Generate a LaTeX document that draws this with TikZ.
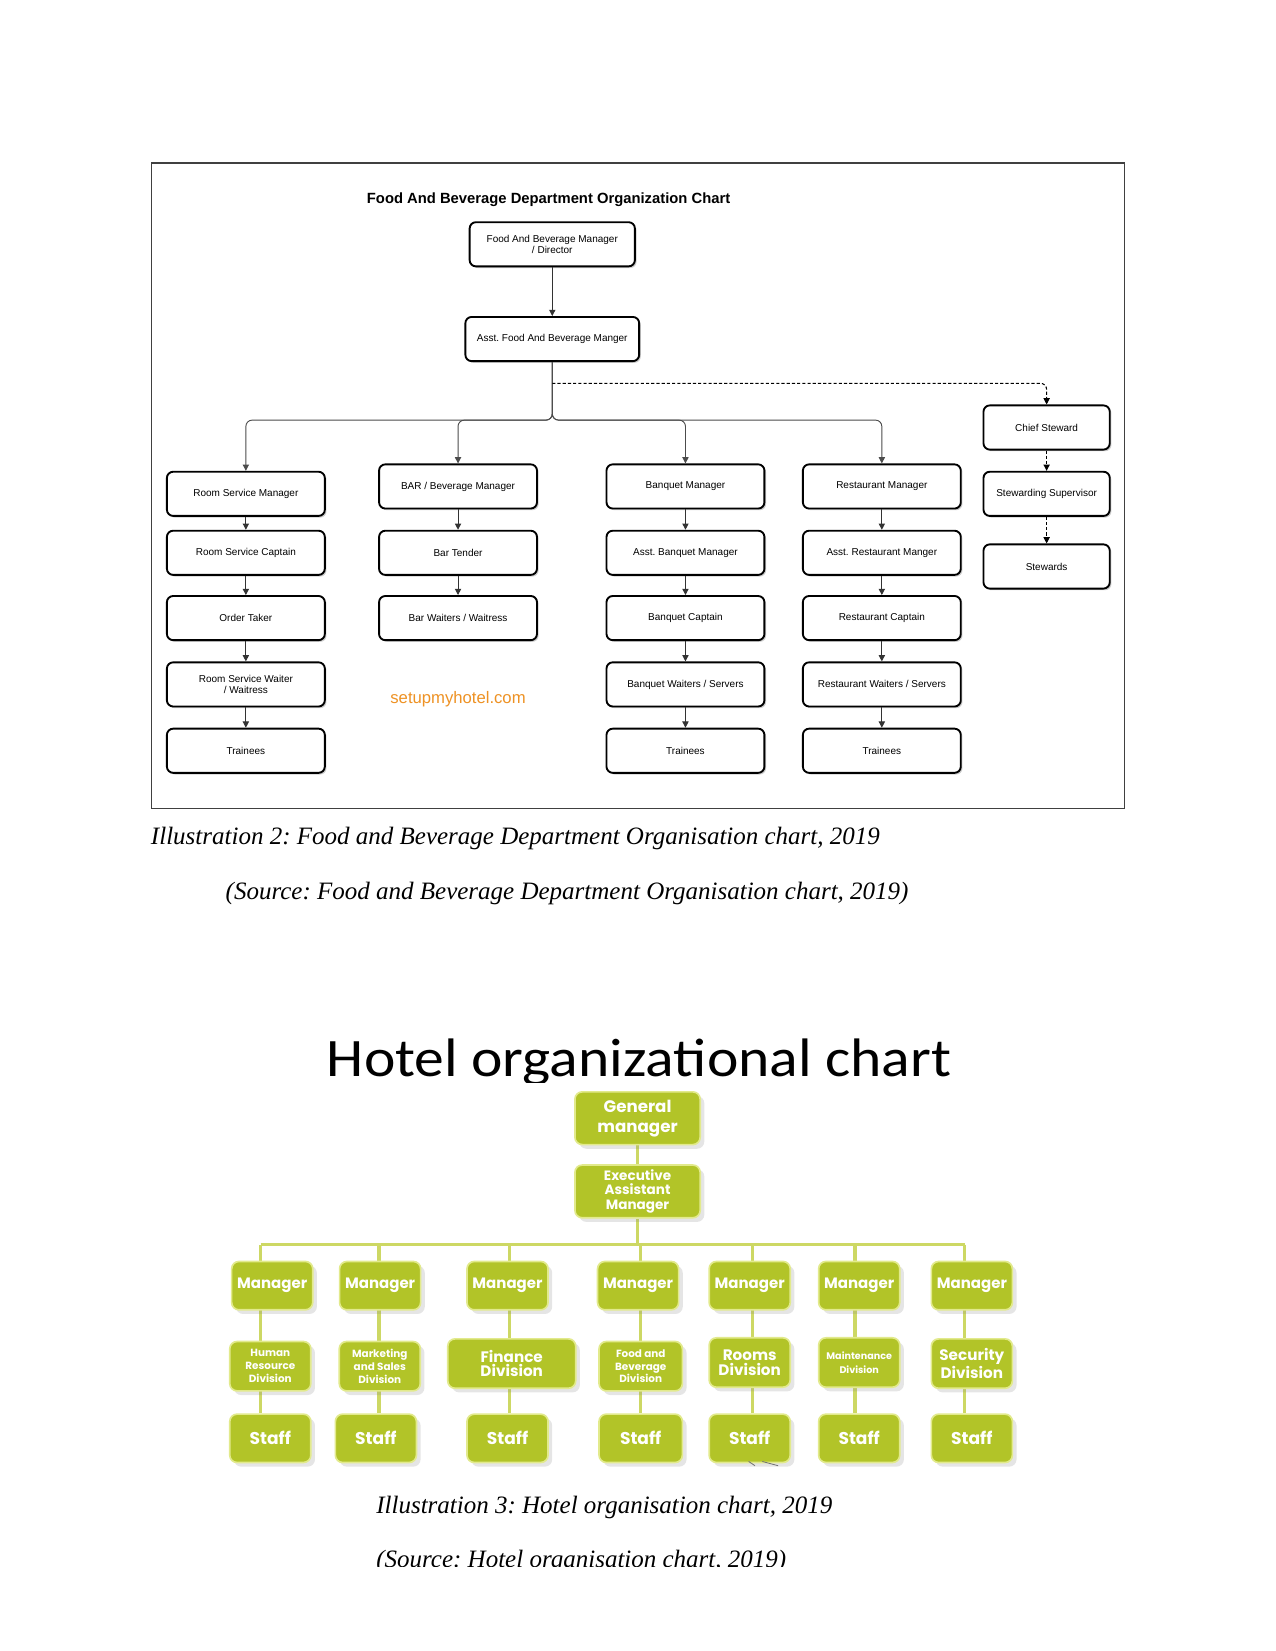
\documentclass[tikz,border=0pt]{standalone}
\usepackage{fontspec}
\setmainfont{Liberation Serif}
\newfontfamily\arialf{Liberation Sans}
\newfontfamily\calibf{Carlito}
\newfontfamily\popf{Poppins}
\usetikzlibrary{shadows,arrows.meta,backgrounds}
\definecolor{hgreen}{RGB}{178,196,40}
\definecolor{hedge}{RGB}{226,234,140}
\definecolor{hline}{RGB}{205,216,100}
\definecolor{orangew}{RGB}{238,146,36}
\frenchspacing
\tikzset{
 fbbox/.style={draw=black, line width=0.9pt, rounded corners=3pt, fill=white, minimum width=75.8pt, minimum height=21.2pt, align=center, font=\arialf\fontsize{4.8}{5.2}\selectfont, inner sep=1pt, drop shadow={shadow xshift=0.8pt, shadow yshift=-0.8pt, opacity=0.4}},
 arr/.style={draw=black!80, line width=0.5pt, -{Triangle[length=3pt,width=3pt]}},
 busline/.style={draw=black!70, line width=0.45pt, rounded corners=3pt, -{Triangle[length=3pt,width=3pt]}},
 dsh/.style={draw=black, line width=0.5pt, dash pattern=on 1.5pt off 1pt, -{Triangle[length=3pt,width=3pt]}},
 gbox/.style={fill=hgreen, draw=hedge, line width=0.8pt, rounded corners=3.5pt, text=white, align=center, inner sep=1pt, drop shadow={shadow xshift=2pt, shadow yshift=-2pt, opacity=0.2, fill=black!50}},
 mgr/.style={gbox, minimum width=38.9pt, minimum height=23.2pt, font=\popf\bfseries\fontsize{7.2}{8}\selectfont},
 divs/.style={gbox, minimum width=38.9pt, minimum height=23.7pt, font=\popf\bfseries\fontsize{5}{6.2}\selectfont},
 divb/.style={gbox, minimum width=38.9pt, minimum height=23.7pt, font=\popf\bfseries\fontsize{7.3}{7}\selectfont},
 staff/.style={gbox, minimum width=38.9pt, minimum height=23.2pt, font=\popf\bfseries\fontsize{8.2}{9}\selectfont},
 gl/.style={draw=hline, line width=1.6pt},
 capt/.style={font=\itshape\fontsize{12}{14}\selectfont, anchor=west, inner sep=0pt},
}
\begin{document}
\begin{tikzpicture}[x=0.50537pt, y=-0.50537pt]
\useasboundingbox (0,0) rectangle (1211,1568);
\begin{pgfonlayer}{background}
\fill[white] (0,0) rectangle (1211,1568);
\end{pgfonlayer}

% ---------- Food and beverage chart ----------
\draw[black!75, line width=0.7pt] (144,155) rectangle (1068,768);
\node[font=\arialf\bfseries\fontsize{7.1}{8}\selectfont] (fbtitle) at (521,190) {Food And Beverage Department Organization Chart};

\node[fbbox, minimum width=79.3pt] (fbm) at (524.5,232) {Food And Beverage Manager\\/ Director};
\node[fbbox, minimum width=83.4pt] (afbm) at (524.5,322) {Asst. Food And Beverage Manger};

\node[fbbox] (rsm) at (233.5,469) {Room Service Manager};
\node[fbbox] (rsc) at (233.5,525) {Room Service Captain};
\node[fbbox] (ot)  at (233.5,587) {Order Taker};
\node[fbbox] (rsw) at (233.5,650) {Room Service Waiter\\/ Waitress};
\node[fbbox] (rst) at (233.5,713) {Trainees};

\node[fbbox] (bar) at (435,462) {BAR / Beverage Manager};
\node[fbbox] (bt)  at (435,525) {Bar Tender};
\node[fbbox] (bw)  at (435,587) {Bar Waiters / Waitress};

\node[fbbox] (bqm) at (651,462) {Banquet Manager};
\node[fbbox] (abm) at (651,525) {Asst. Banquet Manager};
\node[fbbox] (bqc) at (651,587) {Banquet Captain};
\node[fbbox] (bqw) at (651,650) {Banquet Waiters / Servers};
\node[fbbox] (bqt) at (651,713) {Trainees};

\node[fbbox] (rm)  at (837.5,462) {Restaurant Manager};
\node[fbbox] (arm) at (837.5,525) {Asst. Restaurant Manger};
\node[fbbox] (rc)  at (837.5,587) {Restaurant Captain};
\node[fbbox] (rw)  at (837.5,650) {Restaurant Waiters / Servers};
\node[fbbox] (rt)  at (837.5,713) {Trainees};

\node[fbbox, minimum width=60.6pt] (cs)  at (994,406) {Chief Steward};
\node[fbbox, minimum width=60.6pt] (ss)  at (994,469) {Stewarding Supervisor};
\node[fbbox, minimum width=60.6pt] (stw) at (994,538) {Stewards};

\node[text=orangew, font=\arialf\fontsize{8}{9}\selectfont] (web) at (435,664) {setupmyhotel.com};

\coordinate (busy) at (0,399);
\coordinate (dashy) at (0,364);

\draw[arr] (fbm) -- (afbm);
\draw[busline] (afbm.south) -- (afbm.south |- busy) -| (rsm.north);
\draw[busline] (afbm.south) -- (afbm.south |- busy) -| (bar.north);
\draw[busline] (afbm.south) -- (afbm.south |- busy) -| (bqm.north);
\draw[busline] (afbm.south) -- (afbm.south |- busy) -| (rm.north);
\draw[dsh, rounded corners=3pt] (afbm.south |- dashy) -| (cs.north);
\draw[dsh] (cs) -- (ss);
\draw[dsh] (ss) -- (stw);

\draw[arr] (rsm) -- (rsc);
\draw[arr] (rsc) -- (ot);
\draw[arr] (ot) -- (rsw);
\draw[arr] (rsw) -- (rst);
\draw[arr] (bar) -- (bt);
\draw[arr] (bt) -- (bw);
\draw[arr] (bqm) -- (abm);
\draw[arr] (abm) -- (bqc);
\draw[arr] (bqc) -- (bqw);
\draw[arr] (bqw) -- (bqt);
\draw[arr] (rm) -- (arm);
\draw[arr] (arm) -- (rc);
\draw[arr] (rc) -- (rw);
\draw[arr] (rw) -- (rt);

\node[capt] (cap2) at (143,796) {Illustration 2: Food and Beverage Department Organisation chart, 2019};
\node[capt] (src2) at (214,849) {(Source: Food and Beverage Department Organisation chart, 2019)};

% ---------- Hotel chart ----------
\begin{scope}
\clip (0,900) rectangle (1211,1028);
\node[font=\calibf\fontsize{26}{30}\selectfont, anchor=base, inner sep=0pt] (htitle) at (607,1022.7) {\scalebox{1.1}[1]{Hotel organizational chart}};
\end{scope}

\node[gbox, minimum width=60.1pt, minimum height=25.3pt, font=\popf\bfseries\fontsize{8}{9.6}\selectfont] (gm) at (605.5,1062) {General\\manager};
\node[gbox, minimum width=60.1pt, minimum height=25.3pt, font=\popf\bfseries\fontsize{6.5}{7}\selectfont] (eam) at (605.5,1131.5) {Executive\\Assistant\\Manager};

\node[mgr] (m1) at (258.5,1221) {Manager};
\node[mgr] (m2) at (361,1221) {Manager};
\node[mgr] (m3) at (482,1221) {Manager};
\node[mgr] (m4) at (606,1221) {Manager};
\node[mgr] (m5) at (712,1221) {Manager};
\node[mgr] (m6) at (816,1221) {Manager};
\node[mgr] (m7) at (923,1221) {Manager};

\node[divs] (d1) at (256.7,1297.5) {Human\\Resource\\Division};
\node[divs] (d2) at (360.7,1297.5) {Marketing\\and Sales\\Division};
\node[divb, minimum width=61.4pt] (d3) at (486,1295) {Finance\\Division};
\node[divs, minimum width=40pt] (d4) at (608.5,1297.5) {Food and\\Beverage\\Division};
\node[divb] (d5) at (712,1294) {Rooms\\Division};
\node[divs, font=\popf\bfseries\fontsize{4.6}{7}\selectfont] (d6) at (816,1294) {Maintenance\\Division};
\node[divb] (d7) at (923,1295) {Security\\Division};

\node[staff] (s1) at (256.7,1366) {Staff};
\node[staff] (s2) at (357,1366) {Staff};
\node[staff] (s3) at (482,1366) {Staff};
\node[staff, minimum width=40pt] (s4) at (608.5,1366) {Staff};
\node[staff] (s5) at (712,1366) {Staff};
\node[staff] (s6) at (816,1366) {Staff};
\node[staff] (s7) at (923,1366) {Staff};

\coordinate (b1) at (247.5,1182);
\coordinate (b2) at (360,1182);
\coordinate (b3) at (484,1182);
\coordinate (b4) at (608,1182);
\coordinate (b5) at (714.5,1182);
\coordinate (b6) at (812,1182);
\coordinate (b7) at (916,1182);

\begin{pgfonlayer}{background}
\draw[gl] (gm) -- (eam);
\draw[gl] (eam.south) -- (eam.south |- b1);
\draw[gl] (b1) -- (b7);
\foreach \i in {1,...,7} {
  \draw[gl] (b\i) -- (b\i |- s\i.north);
}
\end{pgfonlayer}

\draw[black!55, line width=0.4pt] (711,1388) -- (717,1392);
\draw[black!55, line width=0.4pt] (724,1388) -- (739,1392);

\node[capt] (cap3) at (357,1432) {Illustration 3: Hotel organisation chart, 2019};
\begin{scope}
\clip (0,1440) rectangle (1211,1487.5);
\node[capt] (src3) at (357,1483) {(Source: Hotel organisation chart, 2019)};
\end{scope}
\end{tikzpicture}
\end{document}
